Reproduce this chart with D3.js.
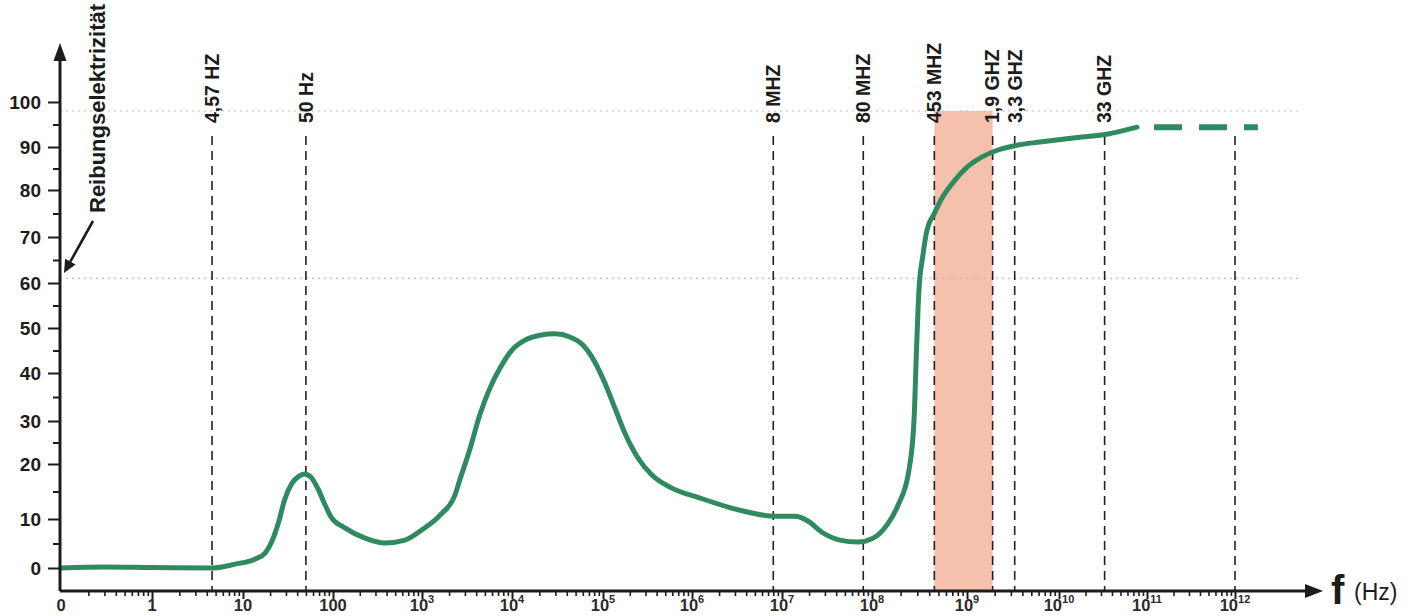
<!DOCTYPE html>
<html><head><meta charset="utf-8">
<script src="https://cdn.jsdelivr.net/npm/d3@7"></script>
<style>
html,body{margin:0;padding:0;background:#fff;}
svg{display:block;font-family:"Liberation Sans",Arial,sans-serif;}
</style></head><body>
<svg id="chart" width="1417" height="616"></svg>
<script>
// Reibungselektrizität over frequency (log axis)
const curveFreqs = [0.1, 0.3, 1, 4.57, 8.2, 13.5, 17.5, 21, 25, 29, 35, 42, 48, 57, 68, 82, 95,
  136, 229, 384, 645, 1000, 1590, 2330, 2630, 3390, 4390, 5700, 7360, 10000, 13900, 20300, 29600,
  43300, 60100, 81500, 1.05e5, 1.36e5, 1.76e5, 2.47e5, 3.54e5, 5.64e5, 1.23e6, 3.41e6, 8.36e6,
  1.39e7, 1.94e7, 2.78e7, 4.4e7, 6.99e7, 1.03e8, 1.44e8, 1.88e8, 2.45e8, 2.77e8, 2.94e8, 3.12e8,
  3.44e8, 3.79e8, 4.5e8, 5.46e8, 7.48e8, 1.0e9, 1.46e9, 2.17e9, 3.49e9, 6.2e9, 1.44e10, 3.6e10, 7.7e10];
const curveValues = [0, 0.2, 0.1, 0, 0.8, 1.8, 3, 5.5, 9.5, 13.5, 16.5, 17.8, 18.2, 17.6, 15.5, 12.5, 10.4,
  8.2, 6.1, 5.1, 5.7, 7.8, 10.7, 14.4, 17.1, 23.3, 31.3, 36.9, 41.1, 45.1, 47.3, 48.4, 48.7,
  48.0, 46.2, 42.4, 37.9, 32.7, 27.2, 21.4, 18.0, 15.8, 13.8, 11.6, 10.5,
  10.5, 9.6, 7.3, 5.7, 5.3, 6.1, 8.8, 12.5, 18.9, 30.2, 45.1, 58.4,
  66.1, 71.5, 74.9, 78.3, 82.3, 85.3, 87.7, 89.3, 90.4, 91.1, 92.0, 92.9, 94.4];
const tailFreqs = [7.7e10, 1.82e12];
const tailValues = [94.4, 94.4];

const markerFreqs = [4.57, 50, 8e6, 8e7, 4.53e8, 1.9e9, 3.3e9, 3.3e10, 1e12];
const markerLabels = ["4,57 HZ", "50 Hz", "8 MHZ", "80 MHZ", "453 MHZ", "1,9 GHZ", "3,3 GHZ", "33 GHZ", ""];

const bandFreqs = [4.53e8, 1.9e9];
const bandTop = 98;
const refLevels = [98, 61];

const yTicks = [0, 10, 20, 30, 40, 50, 60, 70, 80, 90, 100];
const yMinorTicks = [5, 15, 25, 35, 45, 55, 65, 75, 85, 95];
const decadeFreqs = [0.1, 1, 10, 1e2, 1e3, 1e4, 1e5, 1e6, 1e7, 1e8, 1e9, 1e10, 1e11, 1e12];
const decadeBase = ["0", "1", "10", "100", "10", "10", "10", "10", "10", "10", "10", "10", "10", "10"];
const decadeExp = ["", "", "", "", "3", "4", "5", "6", "7", "8", "9", "10", "11", "12"];

const svg = d3.select("#chart");
const axisX0 = 60, axisY0 = 591;
const ink = "#1c1c1c";
const green = "#2f8a60";

// hand-drawn axes: piecewise calibration per decade / per tick
const x = d3.scaleLog()
  .domain(decadeFreqs)
  .range([61, 152, 243, 333, 422, 512, 603, 692, 782, 872, 967, 1059, 1147, 1235]);
const y = d3.scaleLinear()
  .domain(yTicks)
  .range([568, 519, 464, 421, 373, 328, 283, 237, 190, 147, 102]);

// highlighted band
svg.append("rect")
  .attr("x", x(bandFreqs[0]))
  .attr("y", y(bandTop))
  .attr("width", x(bandFreqs[1]) - x(bandFreqs[0]))
  .attr("height", axisY0 - y(bandTop))
  .attr("fill", "#f5c1ad");

// dotted reference levels
svg.selectAll("line.ref").data(refLevels).join("line")
  .attr("class", "ref")
  .attr("x1", axisX0).attr("x2", 1300)
  .attr("y1", d => y(d)).attr("y2", d => y(d))
  .attr("stroke", "#bdbdbd").attr("stroke-width", 1.2)
  .attr("stroke-dasharray", "2,4");

// vertical frequency markers
const markers = markerFreqs.map((f, i) => ({ f, label: markerLabels[i] }));
svg.selectAll("line.marker").data(markers).join("line")
  .attr("class", "marker")
  .attr("x1", d => x(d.f)).attr("x2", d => x(d.f))
  .attr("y1", 136).attr("y2", axisY0)
  .attr("stroke", "#222").attr("stroke-width", 1.6)
  .attr("stroke-dasharray", "9,6");
svg.selectAll("text.marker").data(markers.filter(d => d.label)).join("text")
  .attr("class", "marker")
  .attr("transform", d => `translate(${x(d.f)},123) rotate(-90)`)
  .attr("dy", "0.35em")
  .attr("font-size", 19.5).attr("font-weight", "bold").attr("fill", ink)
  .text(d => d.label);

// curve
const pts = curveFreqs.map((f, i) => ({ f, v: curveValues[i] }));
const line = d3.line().x(d => x(d.f)).y(d => y(d.v)).curve(d3.curveMonotoneX);
svg.append("path").datum(pts)
  .attr("d", line)
  .attr("fill", "none").attr("stroke", green)
  .attr("stroke-width", 5).attr("stroke-linecap", "round").attr("stroke-linejoin", "round");
const tail = tailFreqs.map((f, i) => ({ f, v: tailValues[i] }));
svg.append("path").datum(tail)
  .attr("d", d3.line().x(d => x(d.f)).y(d => y(d.v)))
  .attr("fill", "none").attr("stroke", green)
  .attr("stroke-width", 6).attr("stroke-dasharray", "28,17").attr("stroke-dashoffset", 28);

// y axis ticks
const yAxis = svg.append("g").attr("transform", `translate(${axisX0},0)`)
  .call(d3.axisLeft(y).tickValues(yTicks).tickSize(12).tickPadding(7));
yAxis.select(".domain").remove();
yAxis.selectAll(".tick line").attr("stroke", ink).attr("stroke-width", 2);
yAxis.selectAll(".tick text").attr("font-size", 19).attr("font-weight", "bold")
  .attr("fill", ink).attr("font-family", "Liberation Sans, Arial, sans-serif");
const yMinor = svg.append("g").attr("transform", `translate(${axisX0},0)`)
  .call(d3.axisLeft(y).tickValues(yMinorTicks).tickSize(7).tickFormat(""));
yMinor.select(".domain").remove();
yMinor.selectAll(".tick line").attr("stroke", ink).attr("stroke-width", 2);

// x axis ticks
const minorFreqs = [];
for (let k = -1; k <= 11; k++) for (let m = 2; m <= 9; m++) minorFreqs.push(m * Math.pow(10, k));
const xMajor = svg.append("g").attr("transform", `translate(0,${axisY0})`)
  .call(d3.axisBottom(x).tickValues(decadeFreqs.slice(1)).tickSize(8).tickFormat(""));
xMajor.select(".domain").remove();
xMajor.selectAll(".tick line").attr("stroke", ink).attr("stroke-width", 2);
const xMinor = svg.append("g").attr("transform", `translate(0,${axisY0})`)
  .call(d3.axisBottom(x).tickValues(minorFreqs).tickSize(5).tickFormat(""));
xMinor.select(".domain").remove();
xMinor.selectAll(".tick line").attr("stroke", ink).attr("stroke-width", 1.6);

const xl = svg.selectAll("text.xlab").data(decadeFreqs.map((f, i) => ({ f, b: decadeBase[i], e: decadeExp[i] })))
  .join("text").attr("class", "xlab")
  .attr("x", d => x(d.f)).attr("y", 611)
  .attr("text-anchor", "middle").attr("font-size", 16.5).attr("font-weight", "bold").attr("fill", "#2a2a2a");
xl.append("tspan").text(d => d.b);
xl.filter(d => d.e).append("tspan").attr("font-size", 11).attr("dy", -8).text(d => d.e);

// axis lines with arrow heads
svg.append("path")
  .attr("d", `M${axisX0},${axisY0} V50 M${axisX0},${axisY0} H1310`)
  .attr("fill", "none").attr("stroke", ink).attr("stroke-width", 3);
svg.append("path").attr("d", `M${axisX0},43 L${axisX0 - 6.5},61 L${axisX0 + 6.5},61 Z`).attr("fill", ink);
svg.append("path").attr("d", `M1323,${axisY0} L1305,${axisY0 - 7} L1305,${axisY0 + 7} Z`).attr("fill", ink);

svg.append("text").attr("x", 1331).attr("y", 604)
  .attr("font-size", 40).attr("font-weight", "bold").attr("fill", ink).text("f");
svg.append("text").attr("x", 1354).attr("y", 600)
  .attr("font-size", 23).attr("fill", ink).text("(Hz)");

// axis title with pointer arrow
svg.append("text")
  .attr("transform", "translate(105,213) rotate(-90)")
  .attr("font-size", 22).attr("font-weight", "bold").attr("fill", ink)
  .text("Reibungselektrizität");
const a0 = [93, 221], tip = [64, 273];
const dx = tip[0] - a0[0], dyv = tip[1] - a0[1], len = Math.hypot(dx, dyv);
const ux = dx / len, uy = dyv / len, px = -uy, py = ux;
const bx = tip[0] - 13 * ux, by = tip[1] - 13 * uy;
svg.append("line").attr("x1", a0[0]).attr("y1", a0[1]).attr("x2", bx).attr("y2", by)
  .attr("stroke", ink).attr("stroke-width", 2.6);
svg.append("path")
  .attr("d", `M${tip[0]},${tip[1]} L${bx + 6 * px},${by + 6 * py} L${bx - 6 * px},${by - 6 * py} Z`)
  .attr("fill", ink);
</script>
</body></html>
